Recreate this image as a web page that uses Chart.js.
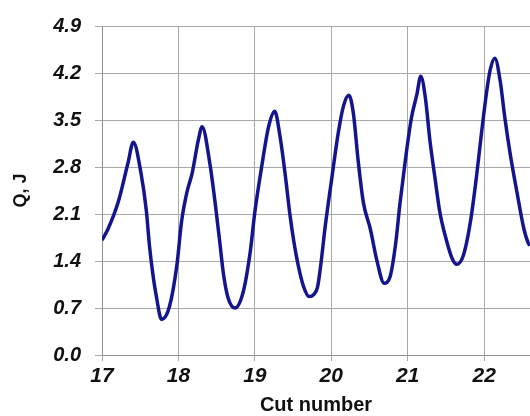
<!DOCTYPE html>
<html>
<head>
<meta charset="utf-8">
<script src="https://cdn.jsdelivr.net/npm/chart.js@4.4.1/dist/chart.umd.min.js"></script>
<style>
  body { margin: 0; background: #fff; }
  canvas { display: block; }
</style>
</head>
<body>
<canvas id="graficoQ" width="530" height="416"></canvas>
<script>
// values
var cutNumber = [
  17.00, 17.08, 17.21, 17.34, 17.41, 17.51, 17.58, 17.62, 17.66, 17.71,
  17.78, 17.88, 17.98, 18.04, 18.11, 18.18, 18.26, 18.31, 18.41, 18.48,
  18.54, 18.59, 18.65, 18.74, 18.85, 18.94, 19.00, 19.09, 19.18, 19.26,
  19.33, 19.40, 19.46, 19.51, 19.57, 19.64, 19.71, 19.77, 19.82, 19.86,
  19.92, 20.01, 20.09, 20.16, 20.23, 20.29, 20.35, 20.42, 20.51, 20.60,
  20.69, 20.77, 20.84, 20.90, 20.97, 21.05, 21.12, 21.17, 21.23, 21.29,
  21.36, 21.42, 21.49, 21.58, 21.64, 21.73, 21.82, 21.90, 21.97, 22.04,
  22.08, 22.14, 22.21, 22.27, 22.34, 22.43, 22.52, 22.58, 22.60
];
var energyQ = [
  1.71, 1.88, 2.27, 2.86, 3.17, 2.71, 2.15, 1.64, 1.25, 0.88,
  0.53, 0.71, 1.34, 1.98, 2.42, 2.71, 3.20, 3.40, 2.86, 2.27,
  1.69, 1.20, 0.85, 0.70, 0.95, 1.54, 2.13, 2.81, 3.40, 3.63,
  3.25, 2.66, 2.08, 1.69, 1.32, 1.01, 0.87, 0.90, 1.01, 1.32,
  1.91, 2.66, 3.30, 3.71, 3.87, 3.59, 2.91, 2.27, 1.88, 1.39,
  1.07, 1.17, 1.64, 2.27, 2.91, 3.54, 3.88, 4.15, 3.84, 3.20,
  2.61, 2.13, 1.78, 1.44, 1.35, 1.49, 1.98, 2.66, 3.35, 3.98,
  4.25, 4.42, 4.08, 3.54, 3.00, 2.42, 1.88, 1.66, 1.63
];
var xMin = 17, xMax = 22.6, xStep = 1;
var yMin = 0, yMax = 4.9, yStep = 0.7;

var punti = [];
for (var i = 0; i < cutNumber.length; i++) {
  punti.push({ x: cutNumber[i], y: energyQ[i] });
}

var fontName = "'Liberation Sans', Arial, sans-serif";
var grigio = '#a8a8a8';

var grafico = new Chart(document.getElementById('graficoQ'), {
  type: 'line',
  data: {
    datasets: [{
      data: punti,
      borderColor: '#14148c',
      borderWidth: 3.5,
      pointRadius: 0,
      cubicInterpolationMode: 'monotone',
      fill: false
    }]
  },
  options: {
    responsive: false,
    animation: false,
    devicePixelRatio: 1,
    layout: { padding: { top: 21, right: 0, left: 0, bottom: 0 } },
    plugins: { legend: { display: false }, tooltip: { enabled: false } },
    scales: {
      x: {
        type: 'linear',
        min: xMin,
        max: xMax,
        afterFit: function (s) { s.height = 61; },
        grid: { color: grigio, tickLength: 6, tickColor: grigio },
        border: { color: '#909090' },
        ticks: {
          stepSize: xStep,
          includeBounds: false,
          padding: 3,
          color: '#111',
          font: { family: fontName, size: 21, style: 'italic', weight: 'bold' }
        },
        title: {
          display: true,
          text: 'Cut number',
          color: '#111',
          padding: { top: 0, bottom: 1 },
          font: { family: fontName, size: 20, weight: 'bold', lineHeight: 1 }
        }
      },
      y: {
        min: yMin,
        max: yMax,
        afterFit: function (s) { s.width = 102; },
        grid: { color: grigio, tickLength: 7, tickColor: grigio },
        border: { color: '#909090' },
        ticks: {
          stepSize: yStep,
          includeBounds: false,
          padding: 14,
          color: '#111',
          font: { family: fontName, size: 20, style: 'italic', weight: 'bold' },
          callback: function (v) { return Number(v).toFixed(1); }
        },
        title: {
          display: true,
          text: 'Q, J',
          color: '#111',
          padding: { top: 10, bottom: 0 },
          font: { family: fontName, size: 18, weight: 'bold', lineHeight: 1.2 }
        }
      }
    }
  }
});
</script>
</body>
</html>
